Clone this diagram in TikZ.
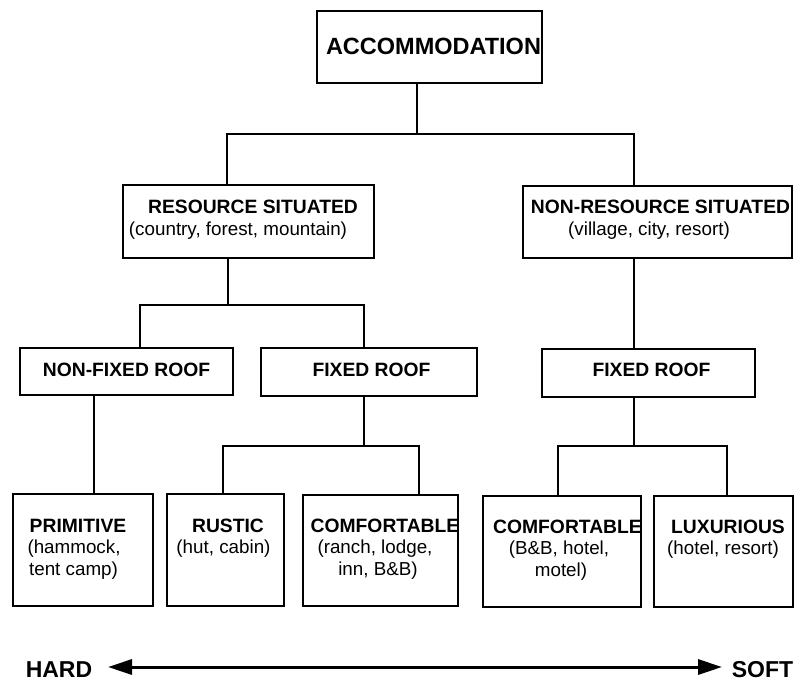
\documentclass[tikz,border=0pt]{standalone}
\usepackage{fontspec}
\setmainfont{Liberation Sans}
\usetikzlibrary{arrows.meta}
\tikzset{
  box/.style={draw, line width=1.6pt, inner sep=0pt, rectangle},
  conn/.style={line width=1.6pt},
  ttl/.style={anchor=base, inner sep=0pt, font=\fontsize{19.3}{22}\selectfont\bfseries},
  sub/.style={anchor=base, inner sep=0pt, font=\fontsize{18.8}{22}\selectfont},
  big/.style={anchor=base, inner sep=0pt, font=\fontsize{23.5}{26}\selectfont\bfseries},
  endlbl/.style={anchor=base, inner sep=0pt, font=\fontsize{23}{26}\selectfont\bfseries},
}
\begin{document}
\begin{tikzpicture}[x=1pt, y=-1pt]
\useasboundingbox (0,0) rectangle (795,682);
% boxes
\node[box, minimum width=225pt, minimum height=72pt] (acc) at (429.5,47) {};
\node[box, minimum width=251pt, minimum height=73pt] (res) at (248.5,221.5) {};
\node[box, minimum width=269pt, minimum height=72pt] (nres) at (657.5,222) {};
\node[box, minimum width=213pt, minimum height=47pt] (nfr) at (126.5,371.5) {};
\node[box, minimum width=216pt, minimum height=48pt] (fra) at (369,372) {};
\node[box, minimum width=213pt, minimum height=48pt] (frb) at (648.5,373) {};
\node[box, minimum width=140pt, minimum height=112pt] (prim) at (83,550) {};
\node[box, minimum width=117pt, minimum height=112pt] (rust) at (225.5,550) {};
\node[box, minimum width=155pt, minimum height=111pt] (comfa) at (380.5,550.5) {};
\node[box, minimum width=158pt, minimum height=111pt] (comfb) at (562,551.5) {};
\node[box, minimum width=139pt, minimum height=111pt] (lux) at (723.5,551.5) {};
% texts
\node[big] (tacc) at (433.5,55) {ACCOMMODATION};
\node[ttl] (tres) at (253,213) {RESOURCE SITUATED};
\node[sub] (sres) at (238,235) {(country, forest, mountain)};
\node[ttl] (tnres) at (660.5,213) {NON-RESOURCE SITUATED};
\node[sub] (snres) at (649,235) {(village, city, resort)};
\node[ttl] (tnfr) at (126.5,376) {NON-FIXED ROOF};
\node[ttl] (tfra) at (371.5,376) {FIXED ROOF};
\node[ttl] (tfrb) at (651.5,376) {FIXED ROOF};
\node[ttl] (tprim) at (78,532) {PRIMITIVE};
\node[sub] (sprim1) at (74,553) {(hammock,};
\node[sub] (sprim2) at (73.5,575) {tent camp)};
\node[ttl] (trust) at (228,532) {RUSTIC};
\node[sub] (srust) at (223.5,553) {(hut, cabin)};
\node[ttl] (tcomfa) at (385,532) {COMFORTABLE};
\node[sub] (scomfa1) at (375,553) {(ranch, lodge,};
\node[sub] (scomfa2) at (378,575) {inn, B\&B)};
\node[ttl] (tcomfb) at (567.5,533) {COMFORTABLE};
\node[sub] (scomfb1) at (559,554) {(B\&B, hotel,};
\node[sub] (scomfb2) at (561,576) {motel)};
\node[ttl] (tlux) at (728,533) {LUXURIOUS};
\node[sub] (slux) at (723,554) {(hotel, resort)};
\node[endlbl] (hard) at (59,677) {HARD};
\node[endlbl] (soft) at (762.5,677) {SOFT};
% junctions
\coordinate (j0) at (417,134);
\coordinate (j0l) at (227,134);
\coordinate (j0r) at (634,134);
\coordinate (j1) at (228,305);
\coordinate (j1l) at (140,305);
\coordinate (j1r) at (364,305);
\coordinate (j2) at (364,446);
\coordinate (j2l) at (223,446);
\coordinate (j2r) at (419,446);
\coordinate (j3) at (634,446);
\coordinate (j3l) at (558,446);
\coordinate (j3r) at (727,446);
\coordinate (j4) at (94,446);
% connectors
\draw[conn] (acc.south -| j0) -- (j0);
\draw[conn] (res.north -| j0l) -- (j0l) -- (j0r) -- (nres.north -| j0r);
\draw[conn] (res.south -| j1) -- (j1);
\draw[conn] (nfr.north -| j1l) -- (j1l) -- (j1r) -- (fra.north -| j1r);
\draw[conn] (nfr.south -| j4) -- (prim.north -| j4);
\draw[conn] (fra.south -| j2) -- (j2);
\draw[conn] (rust.north -| j2l) -- (j2l) -- (j2r) -- (comfa.north -| j2r);
\draw[conn] (nres.south -| j3) -- (frb.north -| j3);
\draw[conn] (frb.south -| j3) -- (j3);
\draw[conn] (comfb.north -| j3l) -- (j3l) -- (j3r) -- (lux.north -| j3r);
% hard-soft arrow
\coordinate (aL) at (108,667);
\coordinate (aR) at (722,667);
\draw[line width=3pt, {Triangle[length=24pt,width=15pt]}-{Triangle[length=24pt,width=15pt]}] (aL) -- (aR);
\end{tikzpicture}
\end{document}
